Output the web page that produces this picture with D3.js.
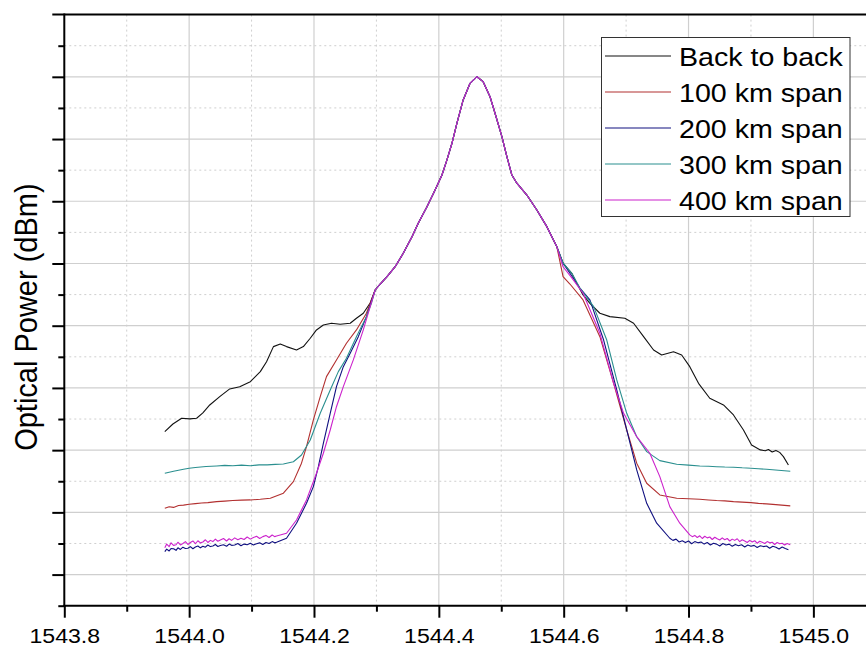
<!DOCTYPE html>
<html>
<head>
<meta charset="utf-8">
<script src="https://cdn.jsdelivr.net/npm/d3@7"></script>
<style>
  body { margin: 0; background: #fff; }
  text { font-family: "Liberation Sans", Arial, sans-serif; fill: #000; }
</style>
</head>
<body>
<svg id="chart" width="866" height="647"></svg>
<script>
// wavelength (nm), power (dBm)
const core = [[1544.298,-42.13],[1544.306,-41.65],[1544.317,-41.06],[1544.330,-40.26],[1544.343,-39.18],
  [1544.357,-37.85],[1544.367,-36.77],[1544.381,-35.44],[1544.394,-34.09],[1544.405,-32.89],[1544.413,-31.68],
  [1544.421,-30.34],[1544.429,-28.73],[1544.439,-26.86],[1544.450,-25.52],[1544.461,-24.99],[1544.471,-25.39],
  [1544.482,-26.60],[1544.490,-27.93],[1544.501,-29.81],[1544.509,-31.42],[1544.517,-32.89],[1544.525,-33.55],
  [1544.541,-34.50],[1544.557,-35.70],[1544.573,-37.04],[1544.589,-38.65]];

const b2bLeft = [[1543.961,-53.51],[1543.974,-52.90],[1543.988,-52.44],[1544.001,-52.49],[1544.012,-52.44],
  [1544.022,-52.01],[1544.033,-51.37],[1544.049,-50.70],[1544.065,-50.08],[1544.081,-49.90],[1544.098,-49.50],
  [1544.114,-48.69],[1544.124,-47.89],[1544.135,-46.68],[1544.146,-46.47],[1544.156,-46.68],[1544.172,-46.95],
  [1544.183,-46.68],[1544.194,-46.01],[1544.204,-45.34],[1544.215,-44.94],[1544.228,-44.80],[1544.242,-44.88],
  [1544.258,-44.80],[1544.268,-44.40],[1544.279,-44.00],[1544.290,-43.17]];
const b2bRight = [[1544.599,-39.98],[1544.613,-40.79],[1544.621,-41.59],[1544.631,-42.53],[1544.642,-43.20],
  [1544.658,-44.00],[1544.674,-44.27],[1544.698,-44.40],[1544.712,-44.80],[1544.728,-45.88],[1544.744,-46.95],
  [1544.757,-47.35],[1544.776,-47.09],[1544.789,-47.35],[1544.802,-48.29],[1544.816,-49.63],[1544.834,-50.83],
  [1544.856,-51.37],[1544.872,-52.17],[1544.888,-53.38],[1544.901,-54.58],[1544.915,-54.98],[1544.923,-55.05],
  [1544.928,-54.95],[1544.934,-55.15],[1544.940,-55.02],[1544.946,-55.18],[1544.952,-55.52],[1544.960,-56.19]];

const km100Left = [[1543.961,-59.67],[1543.968,-59.55],[1543.975,-59.60],[1543.983,-59.45],[1543.991,-59.42],
  [1544.000,-59.35],[1544.010,-59.30],[1544.020,-59.25],[1544.030,-59.22],[1544.044,-59.14],[1544.057,-59.10],
  [1544.070,-59.05],[1544.084,-59.02],[1544.098,-59.00],[1544.114,-58.95],[1544.130,-58.87],[1544.151,-58.46],
  [1544.167,-57.53],[1544.180,-56.05],[1544.188,-54.72],[1544.199,-52.57],[1544.210,-50.70],[1544.220,-49.09],
  [1544.236,-47.75],[1544.252,-46.41],[1544.268,-45.34],[1544.284,-44.00]];
const km100Right = [[1544.599,-41.06],[1544.610,-41.65],[1544.631,-42.93],[1544.658,-45.88],[1544.680,-49.63],
  [1544.701,-53.38],[1544.717,-56.05],[1544.733,-57.66],[1544.754,-58.60],[1544.781,-58.87],[1544.800,-58.90],
  [1544.818,-58.95],[1544.832,-59.00],[1544.845,-59.05],[1544.858,-59.08],[1544.872,-59.14],[1544.886,-59.18],
  [1544.900,-59.22],[1544.912,-59.28],[1544.925,-59.32],[1544.940,-59.38],[1544.963,-59.48]];

const km200Left = [[1543.961,-63.15],[1543.964,-62.95],[1543.968,-63.10],[1543.971,-62.90],[1543.975,-62.92],
  [1543.979,-63.05],[1543.982,-62.85],[1543.986,-62.98],[1543.990,-62.80],[1543.994,-62.90],[1543.998,-62.88],
  [1544.002,-62.75],[1544.006,-62.92],[1544.010,-62.78],[1544.014,-62.70],[1544.018,-62.85],[1544.022,-62.72],
  [1544.026,-62.80],[1544.030,-62.62],[1544.034,-62.75],[1544.038,-62.70],[1544.042,-62.58],[1544.046,-62.74],
  [1544.050,-62.66],[1544.055,-62.60],[1544.060,-62.72],[1544.064,-62.55],[1544.068,-62.65],[1544.073,-62.62],
  [1544.078,-62.50],[1544.083,-62.68],[1544.088,-62.55],[1544.093,-62.60],[1544.098,-62.48],[1544.103,-62.62],
  [1544.108,-62.52],[1544.113,-62.45],[1544.118,-62.58],[1544.123,-62.42],[1544.128,-62.50],[1544.133,-62.35],
  [1544.137,-62.45],[1544.140,-62.40],[1544.156,-62.08],[1544.172,-60.87],[1544.188,-59.27],[1544.199,-57.93],
  [1544.207,-56.33],[1544.215,-54.45],[1544.226,-52.04],[1544.236,-49.90],[1544.247,-48.29],[1544.258,-47.21],
  [1544.271,-45.88],[1544.284,-44.27]];
const km200Right = [[1544.599,-39.98],[1544.610,-40.79],[1544.626,-41.97],[1544.642,-42.93],[1544.664,-46.15],
  [1544.685,-50.16],[1544.701,-53.38],[1544.717,-56.59],[1544.733,-59.27],[1544.749,-60.87],[1544.770,-62.08],
  [1544.775,-62.25],[1544.780,-62.15],[1544.785,-62.38],[1544.790,-62.28],[1544.795,-62.42],[1544.800,-62.30],
  [1544.805,-62.52],[1544.810,-62.35],[1544.815,-62.45],[1544.820,-62.38],[1544.825,-62.55],[1544.830,-62.42],
  [1544.835,-62.62],[1544.840,-62.48],[1544.845,-62.55],[1544.850,-62.70],[1544.855,-62.50],[1544.860,-62.62],
  [1544.865,-62.55],[1544.870,-62.72],[1544.875,-62.58],[1544.880,-62.68],[1544.885,-62.60],[1544.890,-62.78],
  [1544.895,-62.62],[1544.900,-62.72],[1544.905,-62.65],[1544.910,-62.82],[1544.915,-62.68],[1544.920,-62.75],
  [1544.925,-62.70],[1544.930,-62.88],[1544.935,-62.72],[1544.940,-62.80],[1544.945,-62.95],[1544.950,-62.78],
  [1544.955,-62.90],[1544.960,-63.00]];

const km300Left = [[1543.961,-56.86],[1543.968,-56.78],[1543.975,-56.70],[1543.983,-56.62],[1543.991,-56.54],
  [1544.000,-56.46],[1544.010,-56.40],[1544.027,-56.32],[1544.044,-56.27],[1544.057,-56.22],[1544.070,-56.25],
  [1544.084,-56.20],[1544.098,-56.25],[1544.112,-56.18],[1544.125,-56.18],[1544.138,-56.14],[1544.151,-56.11],
  [1544.167,-55.93],[1544.180,-55.39],[1544.194,-54.18],[1544.210,-52.04],[1544.226,-50.16],[1544.239,-48.69],
  [1544.252,-47.62],[1544.268,-45.88],[1544.284,-44.27],[1544.292,-43.20]];
const km300Right = [[1544.599,-39.98],[1544.613,-40.79],[1544.626,-41.97],[1544.648,-43.47],[1544.669,-46.15],
  [1544.685,-49.36],[1544.701,-52.04],[1544.717,-53.92],[1544.733,-55.12],[1544.754,-55.84],[1544.781,-56.13],
  [1544.800,-56.20],[1544.818,-56.27],[1544.832,-56.30],[1544.845,-56.33],[1544.858,-56.36],[1544.872,-56.37],
  [1544.886,-56.42],[1544.900,-56.45],[1544.912,-56.50],[1544.925,-56.54],[1544.944,-56.62],[1544.963,-56.70]];

const km400Left = [[1543.961,-62.85],[1543.964,-62.55],[1543.968,-62.75],[1543.971,-62.45],[1543.975,-62.65],
  [1543.979,-62.60],[1543.982,-62.40],[1543.986,-62.62],[1543.990,-62.50],[1543.994,-62.35],[1543.998,-62.58],
  [1544.002,-62.42],[1544.006,-62.30],[1544.010,-62.52],[1544.014,-62.28],[1544.018,-62.45],[1544.022,-62.38],
  [1544.026,-62.20],[1544.030,-62.42],[1544.034,-62.25],[1544.038,-62.35],[1544.042,-62.15],[1544.046,-62.32],
  [1544.050,-62.22],[1544.055,-62.10],[1544.060,-62.30],[1544.064,-62.12],[1544.068,-62.25],[1544.073,-62.05],
  [1544.078,-62.20],[1544.083,-62.08],[1544.088,-62.18],[1544.093,-61.98],[1544.098,-62.15],[1544.103,-62.02],
  [1544.108,-61.92],[1544.113,-62.10],[1544.118,-61.95],[1544.123,-61.85],[1544.128,-62.02],[1544.133,-61.82],
  [1544.137,-61.95],[1544.140,-61.90],[1544.156,-61.68],[1544.172,-60.61],[1544.188,-59.00],[1544.204,-56.86],
  [1544.215,-55.25],[1544.226,-53.38],[1544.236,-51.51],[1544.247,-49.90],[1544.263,-47.75],[1544.279,-45.34],
  [1544.290,-43.47]];
const km400Right = [[1544.599,-40.26],[1544.613,-41.16],[1544.631,-42.39],[1544.658,-45.61],[1544.680,-49.63],
  [1544.696,-52.04],[1544.717,-53.92],[1544.738,-55.25],[1544.754,-57.13],[1544.770,-59.54],[1544.786,-60.87],
  [1544.802,-61.81],[1544.806,-61.95],[1544.810,-61.85],[1544.814,-62.02],[1544.818,-61.88],[1544.822,-62.10],
  [1544.826,-61.92],[1544.830,-62.05],[1544.834,-61.98],[1544.838,-62.18],[1544.842,-62.00],[1544.846,-62.12],
  [1544.850,-62.22],[1544.854,-62.05],[1544.858,-62.20],[1544.862,-62.10],[1544.866,-62.30],[1544.870,-62.15],
  [1544.874,-62.25],[1544.878,-62.12],[1544.882,-62.35],[1544.886,-62.20],[1544.890,-62.30],[1544.894,-62.42],
  [1544.898,-62.25],[1544.902,-62.38],[1544.906,-62.28],[1544.910,-62.48],[1544.914,-62.32],[1544.918,-62.40],
  [1544.922,-62.50],[1544.926,-62.35],[1544.930,-62.45],[1544.934,-62.40],[1544.938,-62.58],[1544.942,-62.42],
  [1544.946,-62.52],[1544.950,-62.48],[1544.954,-62.62],[1544.958,-62.50],[1544.963,-62.60]];

const seriesNames = ["Back to back", "100 km span", "200 km span", "300 km span", "400 km span"];
const seriesColors = ["#111111", "#b23030", "#101080", "#2a8f8f", "#cc22cc"];
const seriesData = [
  b2bLeft.concat(core, b2bRight),
  km100Left.concat(core, km100Right),
  km200Left.concat(core, km200Right),
  km300Left.concat(core, km300Right),
  km400Left.concat(core, km400Right)
];

const xMajor = [1543.8, 1544.0, 1544.2, 1544.4, 1544.6, 1544.8, 1545.0];
const xMinor = [1543.9, 1544.1, 1544.3, 1544.5, 1544.7, 1544.9];
const yMajor = [-65, -60, -55, -50, -45, -40, -35, -30, -25];
const yMinor = [-67.5, -62.5, -57.5, -52.5, -47.5, -42.5, -37.5, -32.5, -27.5, -22.5];

const svg = d3.select("#chart");
const x = d3.scaleLinear().domain([1543.8, 1545.1]).range([64.3, 875.8]);
const y = d3.scaleLinear().domain([-67.5, -20]).range([605.7, 14.6]);

// grid
const grid = svg.append("g");
grid.selectAll(".vmaj").data(xMajor.slice(1)).join("line")
  .attr("x1", d => x(d)).attr("x2", d => x(d)).attr("y1", y(-20)).attr("y2", y(-67.5))
  .attr("stroke", "#cfcfcf").attr("stroke-width", 1.2);
grid.selectAll(".vmin").data(xMinor).join("line")
  .attr("x1", d => x(d)).attr("x2", d => x(d)).attr("y1", y(-20)).attr("y2", y(-67.5))
  .attr("stroke", "#cfcfcf").attr("stroke-width", 1).attr("stroke-dasharray", "2,3");
grid.selectAll(".hmaj").data(yMajor).join("line")
  .attr("x1", x(1543.8)).attr("x2", 866).attr("y1", d => y(d)).attr("y2", d => y(d))
  .attr("stroke", "#cfcfcf").attr("stroke-width", 1.2);
grid.selectAll(".hmin").data(yMinor.slice(1)).join("line")
  .attr("x1", x(1543.8)).attr("x2", 866).attr("y1", d => y(d)).attr("y2", d => y(d))
  .attr("stroke", "#cfcfcf").attr("stroke-width", 1).attr("stroke-dasharray", "2,3");

// traces
const line = d3.line().x(d => x(d[0])).y(d => y(d[1]));
svg.append("g").selectAll("path").data(seriesData).join("path")
  .attr("d", line)
  .attr("fill", "none")
  .attr("stroke", (d, i) => seriesColors[i])
  .attr("stroke-width", 1.1)
  .attr("stroke-linejoin", "round");

// axes
const xAxis = svg.append("g").attr("transform", `translate(0,${y(-67.5)})`)
  .call(d3.axisBottom(x).tickValues(xMajor).tickSize(12).tickSizeOuter(0).tickFormat(d3.format(".1f")));
xAxis.select(".domain").remove();
xAxis.selectAll(".tick line").attr("stroke-width", 2);
xAxis.selectAll(".tick text").attr("y", 0).attr("dy", 0)
  .attr("transform", "translate(0,37) scale(1.1,1)")
  .style("font-size", "21px").style("font-family", "'Liberation Sans', Arial, sans-serif");
const xMin = svg.append("g").attr("transform", `translate(0,${y(-67.5)})`)
  .call(d3.axisBottom(x).tickValues(xMinor).tickSize(6).tickSizeOuter(0).tickFormat(""));
xMin.select(".domain").remove();
xMin.selectAll(".tick line").attr("stroke-width", 2);

const yAxis = svg.append("g").attr("transform", `translate(${x(1543.8)},0)`)
  .call(d3.axisLeft(y).tickValues(yMajor).tickSize(12).tickSizeOuter(0).tickFormat(""));
yAxis.select(".domain").remove();
yAxis.selectAll(".tick line").attr("stroke-width", 2);
const yMin = svg.append("g").attr("transform", `translate(${x(1543.8)},0)`)
  .call(d3.axisLeft(y).tickValues(yMinor).tickSize(6).tickSizeOuter(0).tickFormat(""));
yMin.select(".domain").remove();
yMin.selectAll(".tick line").attr("stroke-width", 2);

// frame lines
svg.append("line").attr("x1", x(1543.8)).attr("x2", x(1543.8)).attr("y1", y(-20) - 1).attr("y2", y(-67.5) + 1)
  .attr("stroke", "#000").attr("stroke-width", 2);
svg.append("line").attr("x1", x(1543.8) - 1).attr("x2", 866).attr("y1", y(-67.5)).attr("y2", y(-67.5))
  .attr("stroke", "#000").attr("stroke-width", 2);
svg.append("line").attr("x1", x(1543.8) - 12).attr("x2", 866).attr("y1", y(-20)).attr("y2", y(-20))
  .attr("stroke", "#000").attr("stroke-width", 2);

// y title
svg.append("text")
  .attr("transform", `translate(37,${(y(-20) + y(-67.5)) / 2 + 7}) rotate(-90) scale(1,1.1)`)
  .attr("text-anchor", "middle")
  .style("font-size", "29px")
  .text("Optical Power (dBm)");

// legend
const lg = svg.append("g");
lg.append("rect").attr("x", 601.5).attr("y", 37.5).attr("width", 248.5).attr("height", 179)
  .attr("fill", "#fff").attr("stroke", "#333").attr("stroke-width", 1);
const rows = lg.selectAll("g").data(seriesNames).join("g")
  .attr("transform", (d, i) => `translate(0,${56 + i * 36})`);
rows.append("line").attr("x1", 605).attr("x2", 671).attr("y1", 0).attr("y2", 0)
  .attr("stroke", (d, i) => seriesColors[i]).attr("stroke-width", 1.1);
rows.append("text").attr("transform", "translate(679,9.5) scale(1.1,1)")
  .style("font-size", "26px").text(d => d);
</script>
</body>
</html>
